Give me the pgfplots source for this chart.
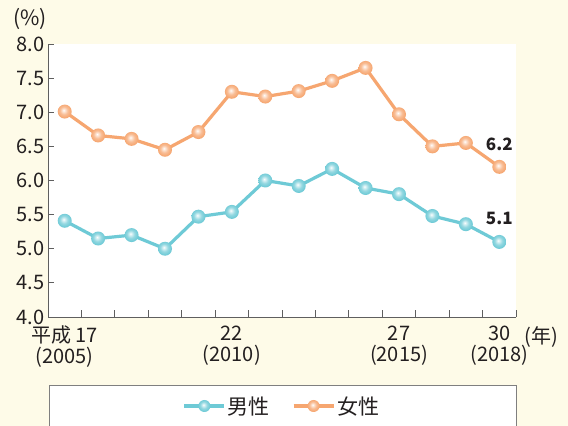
\documentclass[border=0pt]{standalone}
\usepackage{fontspec}
\setmainfont{Noto Sans CJK JP}
\usepackage{pgfplots}
\pgfplotsset{compat=1.18}
\definecolor{bg}{RGB}{254,251,232}
\definecolor{ocol}{RGB}{246,166,112}
\definecolor{bcol}{RGB}{110,202,214}
\definecolor{axc}{RGB}{95,95,95}
\definecolor{txt}{RGB}{35,31,32}
\pgfdeclareradialshading{oshade}{\pgfqpoint{-4bp}{5bp}}{color(0bp)=(white); color(3bp)=(ocol!20!white); color(14bp)=(ocol!75!white); color(25bp)=(ocol); color(50bp)=(ocol)}
\pgfdeclareradialshading{bshade}{\pgfqpoint{-4bp}{5bp}}{color(0bp)=(white); color(3bp)=(bcol!20!white); color(14bp)=(bcol!75!white); color(25bp)=(bcol); color(50bp)=(bcol)}
\pgfdeclareplotmark{oball}{\pgfpathcircle{\pgfpointorigin}{\pgfplotmarksize}\pgfshadepath{oshade}{0}\pgfusepath{}}
\pgfdeclareplotmark{bball}{\pgfpathcircle{\pgfpointorigin}{\pgfplotmarksize}\pgfshadepath{bshade}{0}\pgfusepath{}}
\begin{document}
\begin{tikzpicture}[x=1pt,y=1pt]
\useasboundingbox (0,0) rectangle (568,426);
\fill[bg] (0,0) rectangle (568,426);
\filldraw[fill=white, draw=axc!80, line width=0.8pt] (49,41) rectangle (516,-5);
\begin{axis}[
  at={(48pt,109pt)}, anchor=south west,
  width=468pt, height=273pt, scale only axis,
  xmin=-0.5, xmax=13.5, ymin=4, ymax=8,
  axis lines=left,
  axis line style={-, draw=axc, line width=0.9pt},
  axis background/.style={fill=white},
  tick align=inside,
  tick style={draw=axc, line width=0.9pt},
  major tick length=6pt,
  minor tick length=7pt,
  ytick={4,4.5,5,5.5,6,6.5,7,7.5,8},
  yticklabel style={/pgf/number format/.cd, fixed, fixed zerofill, precision=1},
  /pgf/number format/assume math mode=true,
  ticklabel style={font=\fontsize{20}{21}\selectfont, text=txt},
  xtick={0,5,10,13},
  xticklabels={{平成 17\\(2005)},{22\\(2010)},{27\\(2015)},{30\\(2018)}},
  xticklabel style={align=center, yshift=-5pt},
  minor xtick={0.5,1.5,2.5,3.5,4.5,5.5,6.5,7.5,8.5,9.5,10.5,11.5,12.5,13.5},
  major x tick style={draw=none},
  clip=false,
  legend style={at={(axis description cs:0.5,-0.326)}, anchor=center, draw=none, fill=none,
    font=\fontsize{21}{22}\selectfont, text=txt,
    /tikz/every even column/.append style={column sep=20pt}},
  legend columns=2,
  legend image code/.code={\draw[mark repeat=2,mark phase=2,mark size=6pt] plot coordinates {(0pt,0pt) (20pt,0pt) (40pt,0pt)};},
]
\addplot[bcol, line width=3.2pt, mark=bball, mark size=7pt] coordinates {
(0,5.41) (1,5.15) (2,5.2) (3,5.0) (4,5.47) (5,5.54) (6,6.0) (7,5.92) (8,6.17) (9,5.89) (10,5.8) (11,5.48) (12,5.36) (13,5.1)};
\addlegendentry{男性}
\addplot[ocol, line width=3.2pt, mark=oball, mark size=7pt] coordinates {
(0,7.01) (1,6.66) (2,6.61) (3,6.45) (4,6.71) (5,7.3) (6,7.23) (7,7.31) (8,7.46) (9,7.65) (10,6.97) (11,6.5) (12,6.55) (13,6.2)};
\addlegendentry{女性}
\node[font=\bfseries\fontsize{17}{19}\selectfont, text=txt] at (axis cs:13,6.2) [yshift=23pt] {6.2};
\node[font=\bfseries\fontsize{17}{19}\selectfont, text=txt] at (axis cs:13,5.1) [yshift=23pt] {5.1};
\end{axis}
\node[font=\fontsize{21}{22}\selectfont, text=txt] at (30,407) {(\%)};
\node[font=\fontsize{20}{21}\selectfont, text=txt] at (541,89) {(年)};
\end{tikzpicture}
\end{document}
